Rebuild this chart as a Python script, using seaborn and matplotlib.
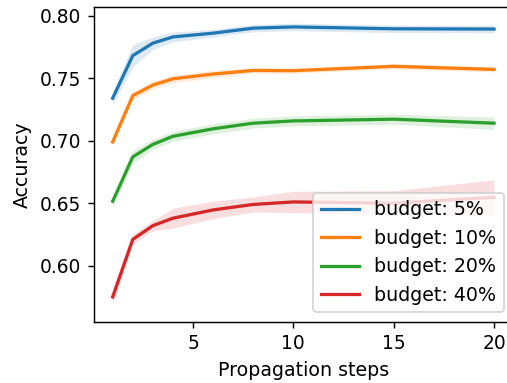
import numpy as np
import pandas as pd
import matplotlib
matplotlib.use("Agg")
import matplotlib.pyplot as plt
import seaborn as sns

# propagation steps on the x axis
steps = [1, 2, 3, 4, 6, 8, 10, 15, 20]
budgets = ["budget: 5%", "budget: 10%", "budget: 20%", "budget: 40%"]

# mean accuracy per budget
acc_5 = [0.734, 0.768, 0.778, 0.783, 0.786, 0.790, 0.791, 0.7895, 0.7893]
acc_10 = [0.699, 0.736, 0.7445, 0.7495, 0.7533, 0.7562, 0.756, 0.7595, 0.757]
acc_20 = [0.6515, 0.687, 0.697, 0.7035, 0.7095, 0.714, 0.7158, 0.7172, 0.714]
acc_40 = [0.575, 0.621, 0.632, 0.638, 0.6446, 0.649, 0.651, 0.650, 0.6547]

# half width of the shaded band
band_5 = [0.005, 0.009, 0.005, 0.004, 0.003, 0.003, 0.003, 0.003, 0.003]
band_10 = [0.003, 0.003, 0.003, 0.003, 0.003, 0.002, 0.002, 0.002, 0.002]
band_20 = [0.004, 0.005, 0.004, 0.004, 0.004, 0.004, 0.004, 0.004, 0.005]
band_40 = [0.006, 0.004, 0.004, 0.008, 0.007, 0.006, 0.0085, 0.010, 0.014]

means = [acc_5, acc_10, acc_20, acc_40]
bands = [band_5, band_10, band_20, band_40]

rows = []
for name, m in zip(budgets, means):
    for s, v in zip(steps, m):
        rows.append({"steps": s, "acc": v, "budget": name})
df = pd.DataFrame(rows)

palette = sns.color_palette("tab10", 4)

fig = plt.figure(figsize=(507 / 130, 383 / 130), dpi=130)
ax = fig.add_axes([93.6 / 507, (383 - 321.7) / 383, 419.5 / 507, 314.4 / 383])

for name, m, b, c in zip(budgets, means, bands, palette):
    m = np.array(m)
    b = np.array(b)
    ax.fill_between(steps, m - b, m + b, color=c, alpha=0.15, linewidth=0)

sns.lineplot(data=df, x="steps", y="acc", hue="budget", palette=palette,
             errorbar=None, linewidth=1.8, ax=ax)

ax.set_xlim(0.05, 20.95)
ax.set_ylim(0.5552, 0.8067)
ax.set_xticks([5, 10, 15, 20])
ax.set_yticks([0.60, 0.65, 0.70, 0.75, 0.80])
ax.set_xlabel("Propagation steps", fontsize=10.5)
ax.set_ylabel("Accuracy", fontsize=10.5)
ax.tick_params(labelsize=10.3)
ax.legend(loc="lower right", title=None, fontsize=10.5)

fig.savefig("out.png", dpi=130)
